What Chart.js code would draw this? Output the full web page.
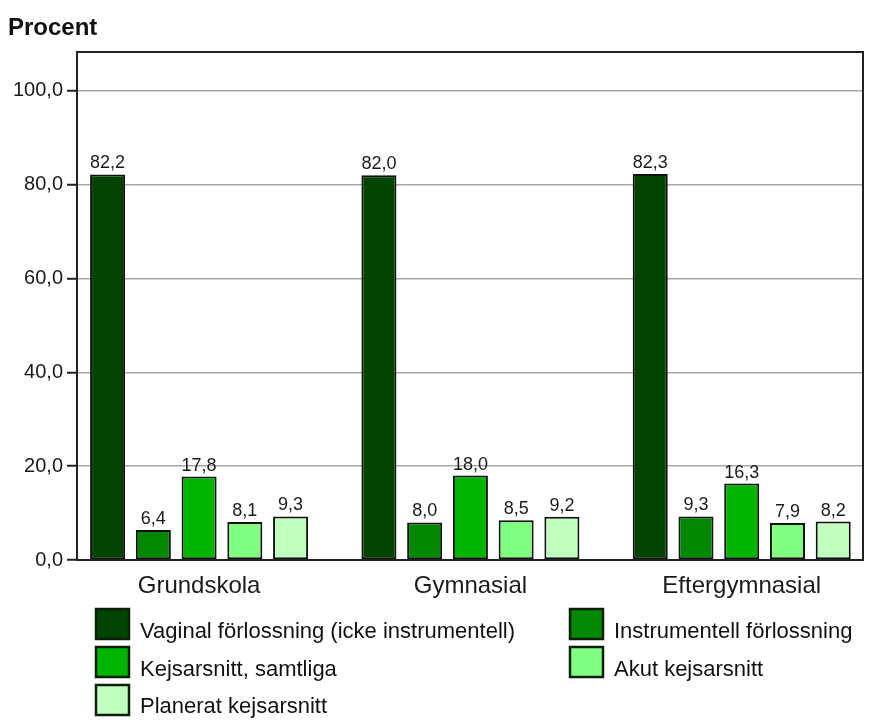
<!DOCTYPE html>
<html>
<head>
<meta charset="utf-8">
<script src="https://cdn.jsdelivr.net/npm/chart.js@4"></script>
<style>
  html, body { margin: 0; padding: 0; background: #fff; }
  #wrap { width: 875px; height: 720px; }
</style>
</head>
<body>
<div id="wrap"><canvas id="chart" width="875" height="720"></canvas></div>
<script>
// 데이터
const categories = ["Grundskola", "Gymnasial", "Eftergymnasial"];
const seriesNames = [
    "Vaginal förlossning (icke instrumentell)",
    "Instrumentell förlossning",
    "Kejsarsnitt, samtliga",
    "Akut kejsarsnitt",
    "Planerat kejsarsnitt"
];
const vaginal = [82.2, 82.0, 82.3];
const instrumentell = [6.4, 8.0, 9.3];
const kejsarsnitt = [17.8, 18.0, 16.3];
const akut = [8.1, 8.5, 7.9];
const planerat = [9.3, 9.2, 8.2];
const yTicks = [0, 20, 40, 60, 80, 100];

const colors = ["#004400", "#008800", "#00b400", "#80ff80", "#c0ffc0"];
const allValues = [vaginal, instrumentell, kejsarsnitt, akut, planerat];

const FONT = '"Liberation Sans", Arial, sans-serif';
const fmt = v => v.toFixed(1).replace('.', ',');

// 막대 위 숫자 + 테두리 + 범례 + 제목
const extras = {
    id: 'extras',
    afterDatasetsDraw(chart) {
        const ctx = chart.ctx;
        ctx.save();
        ctx.fillStyle = '#1a1a1a';
        ctx.font = '18px ' + FONT;
        ctx.textAlign = 'center';
        ctx.textBaseline = 'alphabetic';
        chart.data.datasets.forEach((ds, di) => {
            chart.getDatasetMeta(di).data.forEach((bar, i) => {
                ctx.fillText(fmt(ds.data[i].y), bar.x, bar.y - 6);
            });
        });
        ctx.restore();
    },
    afterDraw(chart) {
        const ctx = chart.ctx;
        const a = chart.chartArea;
        ctx.save();
        ctx.strokeStyle = '#222';
        ctx.lineWidth = 2;
        ctx.strokeRect(a.left, a.top, a.right - a.left, a.bottom - a.top);

        // 제목
        ctx.fillStyle = '#111';
        ctx.font = 'bold 24px ' + FONT;
        ctx.textAlign = 'left';
        ctx.textBaseline = 'alphabetic';
        ctx.fillText('Procent', 8, 35);

        // 범례 (x, 사각형 top, 글자 baseline)
        const pos = [[96, 609, 638], [570, 609, 638], [96, 647, 676], [570, 647, 676], [96, 685, 713]];
        ctx.font = '22px ' + FONT;
        chart.data.datasets.forEach((ds, i) => {
            const [x, top, base] = pos[i];
            ctx.fillStyle = ds.backgroundColor;
            ctx.fillRect(x, top, 33, 30);
            ctx.strokeStyle = '#0a1f0a';
            ctx.lineWidth = 2.5;
            ctx.strokeRect(x, top, 33, 30);
            ctx.fillStyle = '#111';
            ctx.fillText(ds.label, x + 44, base);
        });
        ctx.restore();
    }
};

new Chart(document.getElementById('chart'), {
    type: 'bar',
    data: {
        datasets: seriesNames.map((name, i) => ({
            label: name,
            data: allValues[i].map((v, j) => ({ x: j, y: v })),
            backgroundColor: colors[i],
            borderColor: '#111',
            borderWidth: 2,
            borderSkipped: false,
            categoryPercentage: 0.843,
            barPercentage: 0.766
        }))
    },
    options: {
        responsive: false,
        animation: false,
        layout: { padding: { left: 0, right: 12, top: 52, bottom: 0 } },
        plugins: {
            legend: { display: false },
            tooltip: { enabled: false }
        },
        scales: {
            x: {
                type: 'linear',
                min: -0.45,
                max: 2.447,
                offset: false,
                grid: { display: false, offset: false },
                border: { display: true, color: '#222', width: 2 },
                ticks: {
                    color: '#1a1a1a',
                    font: { size: 24, family: FONT },
                    padding: 4,
                    callback: v => categories[v]
                },
                afterBuildTicks(s) {
                    s.ticks = categories.map((c, i) => ({ value: i }));
                },
                afterFit(s) { s.height = 160; }
            },
            y: {
                min: 0,
                max: 108.3,
                grid: { color: '#a8a8a8', lineWidth: 1.5, tickLength: 10, tickColor: '#222', tickWidth: 2 },
                border: { display: true, color: '#222', width: 2 },
                ticks: {
                    color: '#1a1a1a',
                    padding: 4,
                    font: { size: 20, family: FONT },
                    callback: v => fmt(v)
                },
                afterBuildTicks(s) {
                    s.ticks = yTicks.map(v => ({ value: v }));
                },
                afterFit(s) { s.width = 77; }
            }
        }
    },
    plugins: [extras]
});
</script>
</body>
</html>
